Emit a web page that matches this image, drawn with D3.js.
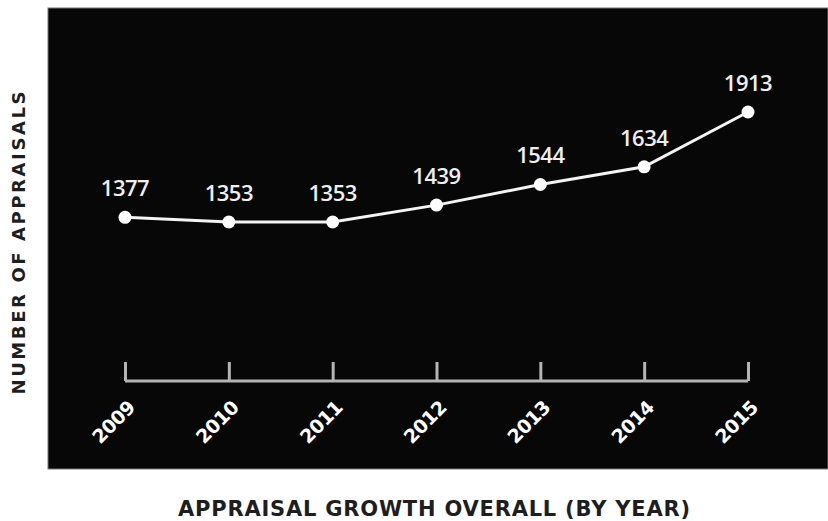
<!DOCTYPE html>
<html>
<head>
<meta charset="utf-8">
<script src="https://cdn.jsdelivr.net/npm/d3@7"></script>
<style>
  body { margin: 0; background: #fff; }
  svg text { font-family: "Open Sans", "DejaVu Sans", sans-serif; }
  svg text.wide, .tick text { font-family: "DejaVu Sans", sans-serif; }
</style>
</head>
<body>
<svg id="chart" width="828" height="521"></svg>
<script>
const years = ['2009', '2010', '2011', '2012', '2013', '2014', '2015']
const appraisals = [1377, 1353, 1353, 1439, 1544, 1634, 1913]
const xTitle = 'APPRAISAL GROWTH OVERALL (BY YEAR)'
const yTitle = 'NUMBER OF APPRAISALS'

const svg = d3.select('#chart')
const width = 828
const height = 521
const axisColor = '#b4b4b4'

// fondo nero
svg.append('rect')
  .attr('x', 48).attr('y', 8)
  .attr('width', width - 48).attr('height', 461)
  .attr('fill', '#070707')
  .attr('stroke', '#777').attr('stroke-width', 1)

const data = years.map((y, i) => ({ year: y, value: appraisals[i] }))

const xScale = d3.scalePoint()
  .domain(years)
  .range([125, 748])

const yScale = d3.scaleLinear()
  .domain([1353, 1913])
  .range([222, 112])

// asse x
const axisY = 381
const xAxis = d3.axisBottom(xScale)
  .tickSize(-19)
  .tickSizeOuter(0)

const gx = svg.append('g')
  .attr('transform', `translate(0, ${axisY})`)
  .call(xAxis)

gx.select('path.domain')
  .attr('d', `M${xScale('2009')},0H${xScale('2015')}`)
  .style('stroke', axisColor)
  .style('stroke-width', 3)

gx.selectAll('.tick line')
  .style('stroke', axisColor)
  .style('stroke-width', 3)

gx.selectAll('.tick text')
  .attr('fill', '#fff')
  .style('font-size', '19px')
  .style('font-weight', 700)
  .style('letter-spacing', '-0.5px')
  .attr('text-anchor', 'end')
  .attr('transform', 'translate(6, 23) rotate(-45)')
  .attr('dy', '0.35em')
  .attr('x', 0).attr('y', 0)

// linea
const line = d3.line()
  .x(d => xScale(d.year))
  .y(d => yScale(d.value))

svg.append('path')
  .datum(data)
  .attr('d', line)
  .attr('fill', 'none')
  .attr('stroke', '#f4f4f4')
  .attr('stroke-width', 3)

svg.selectAll('circle.pt')
  .data(data)
  .enter()
  .append('circle')
  .attr('class', 'pt')
  .attr('cx', d => xScale(d.year))
  .attr('cy', d => yScale(d.value))
  .attr('r', 6.5)
  .attr('fill', '#fff')

svg.selectAll('text.val')
  .data(data)
  .enter()
  .append('text')
  .attr('class', 'val')
  .attr('x', d => xScale(d.year))
  .attr('y', d => yScale(d.value) - 21)
  .attr('text-anchor', 'middle')
  .attr('fill', '#eee')
  .style('font-size', '22px')
  .style('font-weight', 600)
  .style('letter-spacing', '-0.5px')
  .text(d => d.value)

// titoli
svg.append('text')
  .attr('class', 'wide')
  .attr('x', 434).attr('y', 516)
  .attr('text-anchor', 'middle')
  .attr('fill', '#1e1e1e')
  .style('font-size', '21px')
  .style('font-weight', 700)
  .attr('textLength', 512)
  .attr('lengthAdjust', 'spacing')
  .text(xTitle)

svg.append('text')
  .attr('class', 'wide')
  .attr('transform', 'translate(25, 243) rotate(-90)')
  .attr('text-anchor', 'middle')
  .attr('fill', '#1e1e1e')
  .style('font-size', '18px')
  .style('font-weight', 700)
  .attr('textLength', 303)
  .attr('lengthAdjust', 'spacing')
  .text(yTitle)
</script>
</body>
</html>
